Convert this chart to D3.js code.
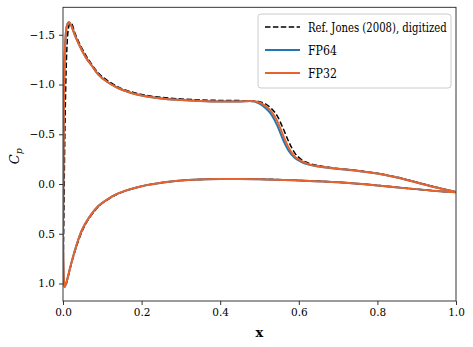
<!DOCTYPE html>
<html><head><meta charset="utf-8">
<script src="https://cdn.jsdelivr.net/npm/d3@7"></script>
<style>body{margin:0;background:#fff}svg{display:block}text{font-family:"DejaVu Serif";fill:#000}</style>
</head><body><svg id="c" width="473" height="347"></svg>
<script>
// ---- data ----
const xTicks = [0, 0.2, 0.4, 0.6, 0.8, 1.0];
const yTicks = [-1.5, -1.0, -0.5, 0.0, 0.5, 1.0];
const seriesNames = ["Ref. Jones (2008), digitized", "FP64", "FP32"];

const upperX = [0.0,0.001,0.002,0.003,0.005,0.007,0.010,0.015,0.020,0.030,0.040,0.050,0.060,0.072,0.090,0.115,0.140,0.170,0.200,0.250,0.300,0.350,0.400,0.450,0.475,0.500,0.515,0.530,0.545,0.560,0.575,0.590,0.605,0.625,0.650,0.690,0.750,0.800,0.850,0.900,0.950,1.000];
const upperFP32 = [0.55,-0.1,-0.65,-1.0,-1.35,-1.50,-1.59,-1.625,-1.60,-1.50,-1.41,-1.33,-1.26,-1.196,-1.10,-1.02,-0.965,-0.92,-0.89,-0.86,-0.845,-0.835,-0.83,-0.83,-0.833,-0.82,-0.785,-0.73,-0.635,-0.49,-0.36,-0.275,-0.235,-0.20,-0.178,-0.157,-0.132,-0.105,-0.065,-0.015,0.035,0.08];
const upperFP64 = [0.55,-0.1,-0.65,-1.0,-1.35,-1.50,-1.59,-1.625,-1.60,-1.50,-1.41,-1.33,-1.26,-1.196,-1.10,-1.02,-0.965,-0.92,-0.89,-0.86,-0.845,-0.835,-0.83,-0.83,-0.833,-0.808,-0.765,-0.70,-0.59,-0.445,-0.33,-0.262,-0.226,-0.195,-0.175,-0.156,-0.132,-0.105,-0.065,-0.015,0.035,0.08];

const lowerX = [0.0,0.002,0.004,0.008,0.012,0.017,0.023,0.030,0.038,0.047,0.058,0.072,0.090,0.115,0.135,0.157,0.200,0.250,0.300,0.350,0.400,0.450,0.500,0.600,0.700,0.800,0.875,0.950,1.000];
const lowerFP32 = [0.55,0.95,1.035,1.0,0.94,0.86,0.77,0.67,0.57,0.475,0.39,0.305,0.222,0.15,0.105,0.07,0.022,-0.013,-0.035,-0.045,-0.05,-0.05,-0.048,-0.035,-0.017,0.015,0.044,0.07,0.084];
const lowerFP64 = [0.55,0.95,1.035,1.0,0.94,0.86,0.77,0.67,0.57,0.475,0.39,0.305,0.222,0.15,0.105,0.07,0.022,-0.013,-0.035,-0.045,-0.05,-0.05,-0.048,-0.035,-0.017,0.015,0.044,0.07,0.084];

const refUpperX = [0.0,0.002,0.004,0.006,0.008,0.011,0.014,0.018,0.022,0.030,0.040,0.050,0.060,0.072,0.090,0.115,0.140,0.170,0.200,0.250,0.300,0.350,0.400,0.450,0.480,0.500,0.515,0.530,0.545,0.560,0.575,0.590,0.605,0.625,0.650,0.690,0.750,0.800,0.850,0.900,0.950,1.000];
const refUpperCp = [0.9,0.4,-0.3,-0.8,-1.15,-1.45,-1.57,-1.615,-1.61,-1.52,-1.43,-1.35,-1.28,-1.21,-1.115,-1.035,-0.975,-0.93,-0.90,-0.87,-0.855,-0.845,-0.84,-0.838,-0.835,-0.828,-0.805,-0.76,-0.685,-0.56,-0.42,-0.31,-0.25,-0.21,-0.185,-0.16,-0.135,-0.108,-0.068,-0.018,0.033,0.08];
const refLowerX = [0.0,0.003,0.006,0.010,0.015,0.020,0.027,0.035,0.045,0.058,0.072,0.090,0.115,0.135,0.157,0.200,0.250,0.300,0.350,0.400,0.450,0.500,0.600,0.700,0.800,0.875,0.950,1.000];
const refLowerCp = [0.9,1.0,1.03,0.98,0.90,0.82,0.72,0.62,0.51,0.40,0.315,0.228,0.155,0.108,0.072,0.023,-0.013,-0.035,-0.046,-0.051,-0.051,-0.049,-0.036,-0.018,0.014,0.043,0.07,0.084];

const colors = {ref: "#000000", fp64: "#1f77b4", fp32: "#e8622c"};

// ---- chart ----
const svg = d3.select("#c");
const L = 63, R = 456, T = 7.3, B = 301;
const x = d3.scaleLinear().domain([0, 1]).range([L, R]);
const y = d3.scaleLinear().domain([-1.776, 1.176]).range([T, B]);

svg.append("defs").append("clipPath").attr("id", "clip")
  .append("rect").attr("x", L).attr("y", T).attr("width", R - L).attr("height", B - T);

const line = d3.line().x(d => x(d[0])).y(d => y(d[1])).curve(d3.curveMonotoneX);
const zip = (a, b) => a.map((v, i) => [v, b[i]]);

const g = svg.append("g").attr("clip-path", "url(#clip)");
function draw(xs, ys, color, w, dash) {
  g.append("path").datum(zip(xs, ys)).attr("d", line)
    .attr("fill", "none").attr("stroke", color).attr("stroke-width", w)
    .attr("stroke-dasharray", dash || null).attr("stroke-linejoin", "round");
}
draw(refUpperX, refUpperCp, colors.ref, 1.5, "5.5,2.4");
draw(refLowerX, refLowerCp, colors.ref, 1.5, "5.5,2.4");
draw(upperX, upperFP64, colors.fp64, 2);
draw(lowerX, lowerFP64, colors.fp64, 2);
draw(upperX, upperFP32, colors.fp32, 2);
draw(lowerX, lowerFP32, colors.fp32, 2);

// axes
const fmt = d3.format(".1f");
const ax = svg.append("g").attr("transform", `translate(0,${B})`)
  .call(d3.axisBottom(x).tickValues(xTicks).tickFormat(fmt).tickSize(4).tickPadding(4));
const ay = svg.append("g").attr("transform", `translate(${L},0)`)
  .call(d3.axisLeft(y).tickValues(yTicks).tickFormat(fmt).tickSize(4).tickPadding(4));
[ax, ay].forEach(a => {
  a.attr("font-family", null);
  a.select(".domain").remove();
  a.selectAll("text").attr("font-size", 10.5).attr("fill", "#000");
  a.selectAll("line").attr("stroke", "#000").attr("stroke-width", 0.8);
});
svg.append("rect").attr("x", L).attr("y", T).attr("width", R - L).attr("height", B - T)
  .attr("fill", "none").attr("stroke", "#222").attr("stroke-width", 0.9);

// labels
svg.append("text").attr("x", (L + R) / 2).attr("y", 337).attr("text-anchor", "middle")
  .attr("font-size", 13).attr("font-weight", "bold").text("x");
const yl = svg.append("text").attr("transform", `translate(19,${(T + B) / 2 + 2}) rotate(-90)`)
  .attr("text-anchor", "middle").attr("font-size", 13).attr("font-style", "italic");
yl.append("tspan").text("C");
yl.append("tspan").attr("font-size", 9.5).attr("dy", 3).text("p");

// legend
const lg = svg.append("g");
lg.append("rect").attr("x", 258).attr("y", 14).attr("width", 193).attr("height", 74).attr("rx", 3)
  .attr("fill", "#fff").attr("fill-opacity", 0.8).attr("stroke", "#ccc").attr("stroke-width", 1);
const legendItems = [
  {name: seriesNames[0], color: colors.ref, dash: "5.5,2.4", w: 1.5, fit: 139},
  {name: seriesNames[1], color: colors.fp64, dash: null, w: 2, fit: 29},
  {name: seriesNames[2], color: colors.fp32, dash: null, w: 2, fit: 29}
];
legendItems.forEach((it, i) => {
  const yy = 27 + i * 23;
  lg.append("line").attr("x1", 265).attr("x2", 300).attr("y1", yy).attr("y2", yy)
    .attr("stroke", it.color).attr("stroke-width", it.w).attr("stroke-dasharray", it.dash);
  const t = lg.append("text").attr("y", 0).attr("dy", "0.36em").attr("font-size", 13).text(it.name);
  const sx = Math.min(1, it.fit / t.node().getComputedTextLength());
  t.attr("transform", `translate(308,${yy}) scale(${sx},1)`);
});
</script></body></html>
